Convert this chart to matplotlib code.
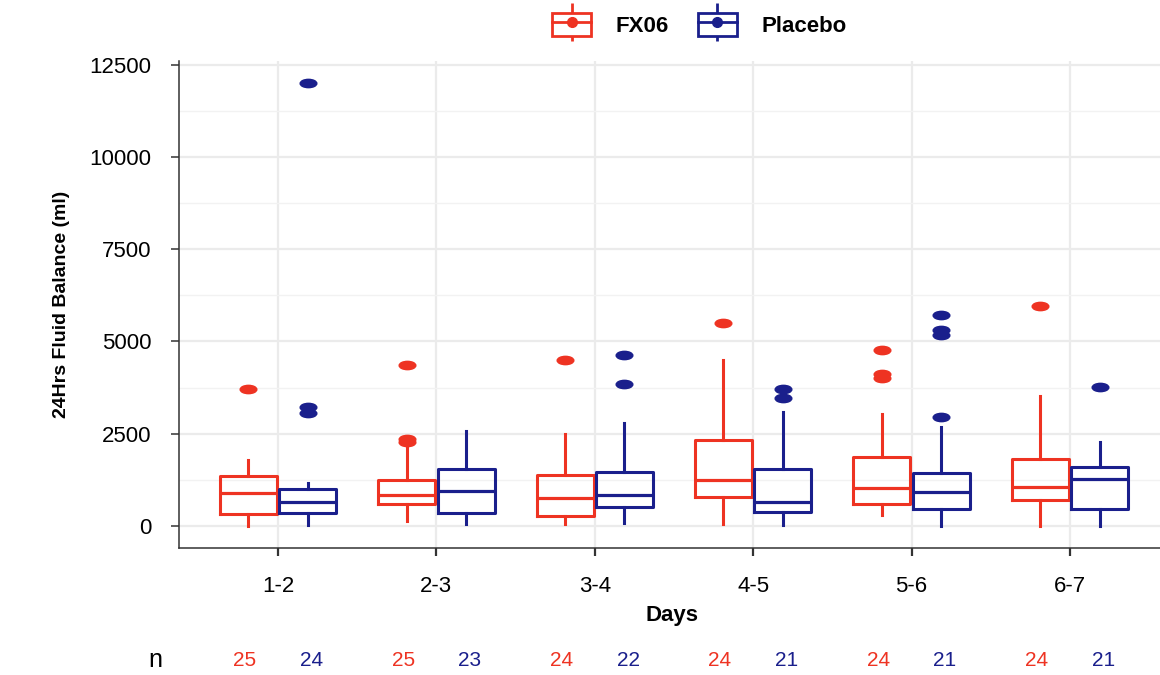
import matplotlib
matplotlib.use("Agg")
import matplotlib.pyplot as plt
from matplotlib.lines import Line2D
from matplotlib.patches import Patch
from matplotlib.markers import MarkerStyle
from matplotlib.transforms import Affine2D, blended_transform_factory
from matplotlib.ticker import MultipleLocator
from matplotlib.legend_handler import HandlerTuple

plt.rcParams["font.family"] = ["Liberation Sans", "DejaVu Sans"]

# ── Dados ───────────────────────────────────────────────────────────────────
dias = ["1-2", "2-3", "3-4", "4-5", "5-6", "6-7"]

fx_whislo = [0, 130, 50, 50, 290, 10]
fx_q1 = [325, 595, 280, 770, 595, 695]
fx_med = [900, 840, 750, 1245, 1020, 1065]
fx_q3 = [1360, 1245, 1390, 2320, 1875, 1815]
fx_whishi = [1785, 2220, 2490, 4490, 3040, 3510]
fx_fliers = [[3700], [2270, 2350, 4350], [4500], [5510], [4000, 4110, 4760], [5960]]
fx_n = [25, 25, 24, 24, 24, 24]

pl_whislo = [30, 55, 70, 35, 10, 10]
pl_q1 = [360, 350, 505, 370, 450, 470]
pl_med = [650, 945, 850, 660, 910, 1270]
pl_q3 = [995, 1535, 1460, 1535, 1445, 1590]
pl_whishi = [1150, 2580, 2780, 3085, 2690, 2280]
pl_fliers = [[3060, 3220, 12000], [], [3850, 4645], [3455, 3710], [2960, 5170, 5310, 5720], [3755]]
pl_n = [24, 23, 22, 21, 21, 21]

cores = {"FX06": "#EE3322", "Placebo": "#1A1F8C"}


def stats(whislo, q1, med, q3, whishi, fliers):
    return [{"whislo": a, "q1": b, "med": c, "q3": d, "whishi": e, "fliers": f}
            for a, b, c, d, e, f in zip(whislo, q1, med, q3, whishi, fliers)]


grupos = {
    "FX06": (stats(fx_whislo, fx_q1, fx_med, fx_q3, fx_whishi, fx_fliers), -0.1875, fx_n, -0.21),
    "Placebo": (stats(pl_whislo, pl_q1, pl_med, pl_q3, pl_whishi, pl_fliers), 0.1875, pl_n, 0.21),
}

# ── Figura ──────────────────────────────────────────────────────────────────
fig = plt.figure(figsize=(11.6, 6.75), dpi=100)
ax = fig.add_axes([179 / 1160, 0.1881, 986 / 1160, 0.7215])

ax.set_xlim(0.375, 6.6)
ax.set_ylim(-600, 12600)
ax.yaxis.set_major_locator(MultipleLocator(2500))
ax.yaxis.set_minor_locator(MultipleLocator(1250))
ax.set_xticks(range(1, len(dias) + 1))
ax.set_xticklabels(dias)

ax.grid(True, which="major", color="#EBEBEB", lw=1.6, zorder=0)
ax.grid(True, which="minor", axis="y", color="#F2F2F2", lw=1.0, zorder=0)
ax.set_axisbelow(True)

for nome, (st, desloc, ns, desloc_n) in grupos.items():
    c = cores[nome]
    pos = [i + 1 + desloc for i in range(len(dias))]
    ax.bxp(st, positions=pos, widths=0.36, showfliers=True,
           boxprops=dict(color=c, lw=2.2),
           medianprops=dict(color=c, lw=2.3),
           whiskerprops=dict(color=c, lw=2.2),
           capprops=dict(lw=0),
           flierprops=dict(marker=MarkerStyle("o", transform=Affine2D().scale(2.0, 1.0)),
                           markerfacecolor=c, markeredgecolor=c, markersize=6),
           manage_ticks=False)
    trans = blended_transform_factory(ax.transData, ax.transAxes)
    for i, n in enumerate(ns):
        ax.text(i + 1 + desloc_n, -0.23, str(n), transform=trans, ha="center",
                va="center", color=c, fontsize=15)

ax.text(-0.024, -0.23, "n", transform=ax.transAxes, ha="center", va="center", fontsize=18)

for lado in ["top", "right"]:
    ax.spines[lado].set_visible(False)
for lado in ["left", "bottom"]:
    ax.spines[lado].set_color("#333333")
    ax.spines[lado].set_linewidth(1.1)

ax.tick_params(axis="y", which="major", length=6, width=1.1, pad=14, labelsize=16, color="#333333")
ax.tick_params(axis="y", which="minor", length=0)
ax.tick_params(axis="x", length=6, width=1.6, pad=14, labelsize=16, color="#333333")

ax.set_xlabel("Days", fontsize=16, fontweight="bold", labelpad=6)
ax.set_ylabel("24Hrs Fluid Balance (ml)", fontsize=14, fontweight="bold", labelpad=14)

# legenda
handles = []
for nome in cores:
    c = cores[nome]
    handles.append((
        Line2D([], [], linestyle="none", marker="|", markersize=27, markeredgewidth=2.0, color=c),
        Patch(facecolor="white", edgecolor=c, lw=2.0),
        Line2D([], [], color=c, lw=2.0, marker="o", markersize=7),
    ))
fig.legend(handles, list(cores.keys()), loc="center", bbox_to_anchor=(0.603, 0.963),
           ncol=2, frameon=False, handler_map={tuple: HandlerTuple(ndivide=1)},
           handlelength=1.75, handleheight=1.2, columnspacing=1.3, handletextpad=1.1,
           prop={"weight": "bold", "size": 16})

fig.savefig("out.png", dpi=100)
